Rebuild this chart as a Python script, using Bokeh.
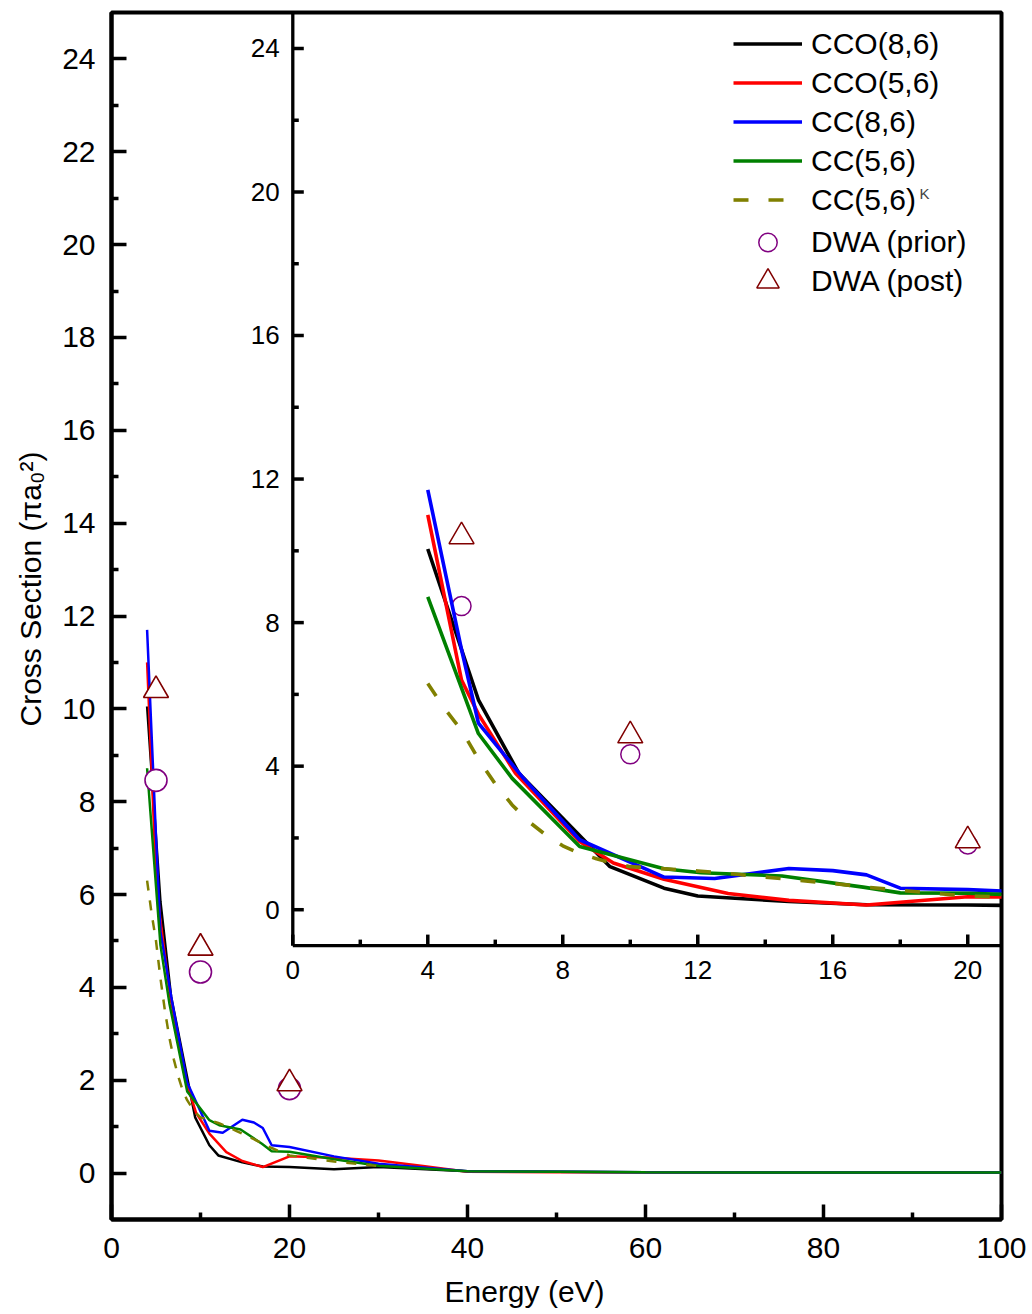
import math
from bokeh.plotting import figure
from bokeh.models import Range1d, FixedTicker, Legend, LegendItem, Label, Title
from bokeh.core.properties import value
from bokeh.embed import file_html
from bokeh.resources import INLINE

# ---------------- data: energy (eV) vs cross section (pi a0^2) ----------------
cco86_e = [4, 5.5, 6.7, 9.4, 11, 12, 14.7, 17, 20, 25, 30, 40, 50, 60, 70, 80, 90, 100]
cco86_s = [10.05, 5.85, 3.8, 1.2, 0.6, 0.38, 0.23, 0.14, 0.13, 0.08, 0.13, 0.04, 0.03, 0.02, 0.02, 0.01, 0.01, 0.01]

cco56_e = [4, 5, 5.5, 6.6, 8.5, 9.5, 11, 12.9, 14.7, 17, 20, 25, 30, 35, 40, 50, 60, 80, 100]
cco56_s = [11.0, 6.4, 5.45, 3.8, 1.9, 1.3, 0.85, 0.45, 0.26, 0.13, 0.36, 0.33, 0.27, 0.15, 0.03, 0.02, 0.02, 0.01, 0.01]

cc86_e = [4, 5, 5.5, 6.8, 8.5, 11, 12.5, 14.7, 16, 17, 18, 20, 25, 30, 40, 50, 60, 80, 100]
cc86_s = [11.7, 7.25, 5.2, 3.7, 1.95, 0.91, 0.87, 1.15, 1.09, 0.97, 0.6, 0.56, 0.36, 0.2, 0.04, 0.03, 0.02, 0.01, 0.01]

cc56_e = [4, 5.5, 6.5, 8.5, 11, 12.1, 14.5, 16.9, 18, 20, 25, 30, 40, 50, 60, 80, 100]
cc56_s = [8.72, 4.91, 3.66, 1.76, 1.14, 1.03, 0.94, 0.63, 0.47, 0.46, 0.3, 0.16, 0.04, 0.03, 0.02, 0.01, 0.01]

cc56k_e = [4, 4.5, 5, 5.5, 6, 6.5, 7, 7.5, 8, 8.5, 9, 9.5, 10, 11, 12, 13, 14, 15, 16, 17, 18, 19, 20, 22, 25, 30]
cc56k_s = [6.3, 5.6, 5.0, 4.2, 3.5, 2.92, 2.45, 2.08, 1.78, 1.57, 1.42, 1.29, 1.2, 1.14, 1.08, 1.0, 0.91, 0.82,
           0.73, 0.63, 0.54, 0.46, 0.38, 0.33, 0.25, 0.15]

dwa_e = [5, 10, 20]
dwa_prior = [8.46, 4.33, 1.82]
dwa_post = [10.4, 4.85, 1.93]

# ---------------- ticks ----------------
main_x_major = [0, 20, 40, 60, 80, 100]
main_x_minor = [10, 30, 50, 70, 90]
main_y_major = list(range(0, 25, 2))
main_y_minor = list(range(1, 25, 2))
inset_x_major = [0, 4, 8, 12, 16, 20]
inset_x_minor = [2, 6, 10, 14, 18]
inset_y_major = [0, 4, 8, 12, 16, 20, 24]
inset_y_minor = [2, 6, 10, 14, 18, 22]

FONT = "Liberation Sans"

series = [
    ("CCO(8,6)", cco86_e, cco86_s, "#000000"),
    ("CCO(5,6)", cco56_e, cco56_s, "#ff0000"),
    ("CC(8,6)", cc86_e, cc86_s, "#0000ff"),
    ("CC(5,6)", cc56_e, cc56_s, "#008000"),
    ("CC(5,6)", cc56k_e, cc56k_s, "#808000"),
]

# ---------------- main panel ----------------
p = figure(frame_width=890, frame_height=1207, x_range=Range1d(0, 100), y_range=Range1d(-1, 25),
           output_backend="svg", toolbar_location=None, title=None,
           min_border_left=111, min_border_right=31, min_border_top=12, min_border_bottom=95)
p.grid.visible = False
p.outline_line_color = "black"
p.outline_line_width = 4
p.background_fill_color = "white"
p.border_fill_color = "white"

for ax in (p.xaxis[0], p.yaxis[0]):
    ax.axis_line_width = 4
    ax.major_tick_in = 15
    ax.major_tick_out = 0
    ax.minor_tick_in = 7
    ax.minor_tick_out = 0
    ax.major_tick_line_width = 3.5
    ax.minor_tick_line_width = 3.5
    ax.major_label_text_font = FONT
    ax.major_label_text_font_size = "30px"
    ax.major_label_text_color = "black"
p.xaxis.ticker = FixedTicker(ticks=main_x_major, minor_ticks=main_x_minor)
p.yaxis.ticker = FixedTicker(ticks=main_y_major, minor_ticks=main_y_minor)
p.yaxis.major_label_standoff = 16
p.xaxis.major_label_standoff = 18

# axis titles
p.add_layout(Title(text="Energy (eV)", align="left", offset=333, vertical_align="top", standoff=28,
                   text_font=FONT, text_font_size="30px", text_font_style="normal",
                   text_color="black"), "below")
p.add_layout(Title(text="Cross Section (\u03c0a\u2080\u00b2)", align="left", offset=493,
                   vertical_align="top", standoff=22, text_font=FONT, text_font_size="30px",
                   text_font_style="normal", text_color="black"), "left")

for i, (name, xs, ys, col) in enumerate(series):
    if i == 4:
        p.line(xs, ys, line_color=col, line_width=2.5, line_dash="10 10")
    else:
        p.line(xs, ys, line_color=col, line_width=2.5)
p.scatter(dwa_e, dwa_prior, marker="circle", size=22, line_color="#800080", line_width=1.6,
          fill_color="white")
p.scatter(dwa_e, dwa_post, marker="triangle", size=25, line_color="#800000", line_width=1.6,
          fill_color="white")

# ---------------- inset panel (sub-coordinate system in the upper right) ----------------
inset_left = 20.37   # main-x where the inset's left spine sits
inset_bottom = 4.90  # main-y where the inset's bottom spine sits
sub = p.subplot(x_source=Range1d(0, 21), y_source=Range1d(-1, 25),
                x_target=Range1d(inset_left, 100), y_target=Range1d(inset_bottom, 25))

ins_circ = sub.scatter(dwa_e, dwa_prior, marker="circle", size=19, line_color="#800080",
                       line_width=1.5, fill_color="white")
ins_tri = sub.scatter(dwa_e, dwa_post, marker="triangle", size=25, line_color="#800000",
                      line_width=1.5, fill_color="white")
ins_lines = []
for i, (name, xs, ys, col) in enumerate(series):
    if i == 4:
        r = sub.line(xs, ys, line_color=col, line_width=3.6, line_dash="15 20")
    else:
        r = sub.line(xs, ys, line_color=col, line_width=3.6)
    ins_lines.append(r)

# inset spines
sub.segment(x0=[0, 0], y0=[-1, -1], x1=[0, 21], y1=[25, -1], line_color="black", line_width=3.3)
# inset ticks (pointing inward)
sub.ray(x=0, y=inset_y_major, length=11, length_units="screen", angle=0,
        line_color="black", line_width=3.5)
sub.ray(x=0, y=inset_y_minor, length=6, length_units="screen", angle=0,
        line_color="black", line_width=3.5)
sub.ray(x=inset_x_major, y=-1, length=11, length_units="screen", angle=math.pi / 2,
        line_color="black", line_width=3.5)
sub.ray(x=inset_x_minor, y=-1, length=6, length_units="screen", angle=math.pi / 2,
        line_color="black", line_width=3.5)
# inset tick labels
sub.text(x=0, y=inset_y_major, text=[str(v) for v in inset_y_major], x_offset=-13,
         text_align="right", text_baseline="middle", text_font=value(FONT),
         text_font_size="26px", text_color="black")
sub.text(x=inset_x_major, y=-1, text=[str(v) for v in inset_x_major], y_offset=15,
         text_align="center", text_baseline="top", text_font=value(FONT),
         text_font_size="26px", text_color="black")

# ---------------- legends ----------------
common = dict(glyph_width=69, spacing=0, label_standoff=9, padding=0, margin=0,
              border_line_color=None, background_fill_alpha=0, label_text_font=FONT,
              label_text_font_size="30px", label_text_color="black")
line_items = [LegendItem(label=value(name), renderers=[r])
              for (name, _, _, _), r in zip(series, ins_lines)]
p.add_layout(Legend(items=line_items, location=(622, 1000), glyph_height=39, **common))
p.add_layout(Legend(items=[LegendItem(label=value("DWA (prior)"), renderers=[ins_circ])],
                    location=(622, 954), glyph_height=46, **common))
p.add_layout(Legend(items=[LegendItem(label=value("DWA (post)"), renderers=[ins_tri])],
                    location=(622, 910), glyph_height=56, **common))
p.add_layout(Label(x=808, y=1026, x_units="screen", y_units="screen", text="K",
                   text_font=FONT, text_font_size="15px", text_baseline="alphabetic"))

open("out.html", "w").write(file_html(p, INLINE))
